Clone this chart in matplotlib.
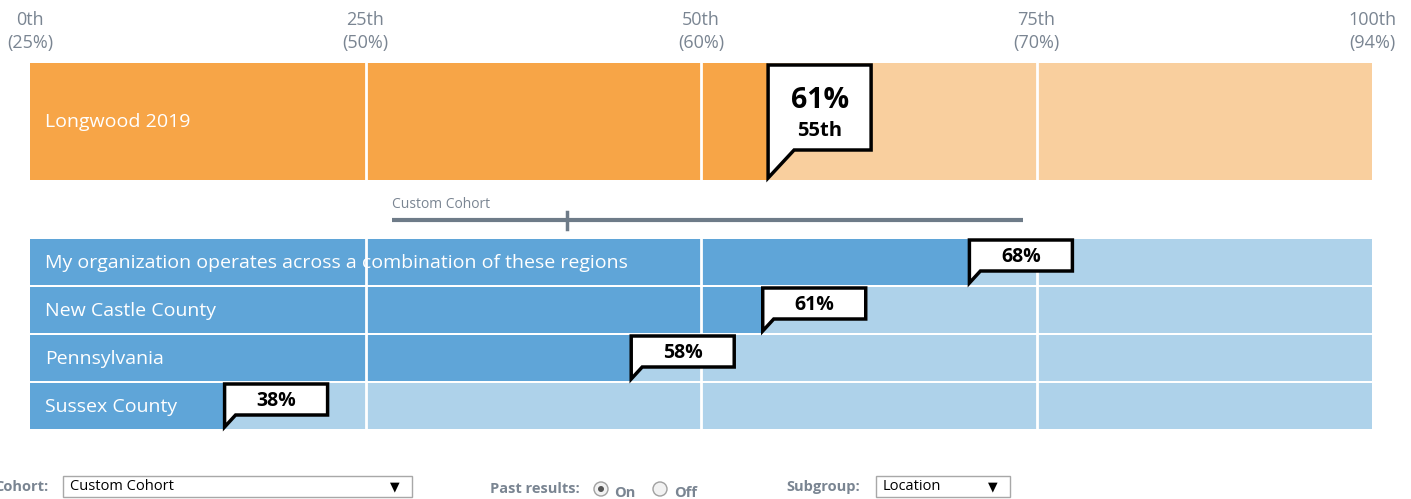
import matplotlib
matplotlib.use('Agg')
import matplotlib.pyplot as plt
from matplotlib.patches import Polygon, Rectangle, Circle

plt.rcParams['font.family'] = ['Open Sans', 'DejaVu Sans']

# percentile scale, with the matching score under each tick
tick_pcts = [0, 25, 50, 75, 100]
tick_scores = ['25%', '50%', '60%', '70%', '94%']

org_name = 'Longwood 2019'
org_score = '61%'
org_pctile = 55

cohort_name = 'Custom Cohort'
cohort_range = [27, 74]
cohort_mid = 40

groups = ['My organization operates across a combination of these regions',
          'New Castle County', 'Pennsylvania', 'Sussex County']
group_pctiles = [70, 54.6, 44.8, 14.5]
group_scores = ['68%', '61%', '58%', '38%']

ORANGE, ORANGE_LT = '#f7a547', '#f9cf9e'
BLUE, BLUE_LT = '#5fa5d8', '#aed2ea'
GREY = '#7a8592'

W, H = 1411, 499
fig = plt.figure(figsize=(W / 100, H / 100), dpi=100)

# chart axes: x in percentiles, y in pixel rows
X0, SPAN = 30, 1342
ax = fig.add_axes([0, 0, 1, 1])
ax.set_xlim(-X0 / SPAN * 100, (W - X0) / SPAN * 100)
ax.set_ylim(H, 0)
ax.axis('off')
px = 100 / SPAN  # one pixel in percentile units

# scale labels
for p, s in zip(tick_pcts, tick_scores):
    ax.text(p, 20, f'{p}th', ha='center', va='center', fontsize=13, color=GREY)
    ax.text(p, 43, f'({s})', ha='center', va='center', fontsize=13, color=GREY)


def callout(x, top, bottom, tip, lines, sizes, box_w=103, tail_w=26):
    pts = [(x, top), (x + box_w * px, top), (x + box_w * px, bottom),
           (x + tail_w * px, bottom), (x, tip)]
    ax.add_patch(Polygon(pts, closed=True, facecolor='white', edgecolor='black',
                         linewidth=2.5, joinstyle='miter', zorder=5))
    cx = x + box_w / 2 * px
    for (ty, txt), fs in zip(lines, sizes):
        ax.text(cx, ty, txt, ha='center', va='center', fontsize=fs,
                fontweight='bold', color='black', zorder=6)


# organisation bar
ax.barh(121.5, 100, height=117, left=0, color=ORANGE_LT, zorder=1)
ax.barh(121.5, org_pctile, height=117, left=0, color=ORANGE, zorder=2)
ax.text(15 * px, 122, org_name, ha='left', va='center', fontsize=14,
        color='white', zorder=4)
callout(org_pctile, 65, 150, 178, [(100, org_score), (131, f'{org_pctile}th')],
        [20.5, 14.5], tail_w=26)

# cohort range marker
ax.text(cohort_range[0], 204, cohort_name, ha='left', va='center', fontsize=10,
        color=GREY)
ax.plot(cohort_range, [220, 220], color='#6e7b88', linewidth=3,
        solid_capstyle='butt')
ax.plot([cohort_mid, cohort_mid], [212, 229], color='#6e7b88', linewidth=2.5)

# subgroup bars
row_top, row_h = 238, 48
for i, (name, p, s) in enumerate(zip(groups, group_pctiles, group_scores)):
    top = row_top + i * row_h
    yc = top + row_h / 2
    ax.barh(yc, 100, height=row_h - 2, left=0, color=BLUE_LT, zorder=1)
    ax.barh(yc, p, height=row_h - 2, left=0, color=BLUE, zorder=2)
    ax.text(15 * px, yc + 1, name, ha='left', va='center', fontsize=14,
            color='white', zorder=4)
    callout(p, top + 2, top + 33, top + 45, [(top + 19, s)], [14], tail_w=11)

# white gridlines through the bars
for p in tick_pcts[1:-1]:
    ax.plot([p, p], [63, 180], color='white', linewidth=2, zorder=3)
    ax.plot([p, p], [238, 430], color='white', linewidth=2, zorder=3)

# controls along the bottom, in pixel coordinates
ui = fig.add_axes([0, 0, 1, 1])
ui.set_xlim(0, W)
ui.set_ylim(H, 0)
ui.axis('off')

ui.text(48, 487, 'Cohort:', ha='right', va='center', fontsize=10.5,
        fontweight='bold', color=GREY)
ui.add_patch(Rectangle((63, 476), 349, 21, facecolor='white',
                       edgecolor='#a8a8a8', linewidth=1))
ui.text(70, 487, 'Custom Cohort', ha='left', va='center', fontsize=10.5,
        color='black')
ui.text(395, 487, '▼', ha='center', va='center', fontsize=9, color='black',
        family=['DejaVu Sans'])

ui.text(580, 489, 'Past results:', ha='right', va='center', fontsize=10.5,
        fontweight='bold', color=GREY)
ui.add_patch(Circle((601, 489), 7, facecolor='#f2f2f2', edgecolor='#a0a0a0',
                    linewidth=1))
ui.add_patch(Circle((601, 489), 3, facecolor='#555555', edgecolor='none'))
ui.text(614, 493, 'On', ha='left', va='center', fontsize=10.5,
        fontweight='bold', color=GREY)
ui.add_patch(Circle((660, 489), 7, facecolor='#f2f2f2', edgecolor='#a0a0a0',
                    linewidth=1))
ui.text(674, 493, 'Off', ha='left', va='center', fontsize=10.5,
        fontweight='bold', color=GREY)

ui.text(860, 487, 'Subgroup:', ha='right', va='center', fontsize=10.5,
        fontweight='bold', color=GREY)
ui.add_patch(Rectangle((876, 476), 134, 21, facecolor='white',
                       edgecolor='#a8a8a8', linewidth=1))
ui.text(883, 487, 'Location', ha='left', va='center', fontsize=10.5,
        color='black')
ui.text(993, 487, '▼', ha='center', va='center', fontsize=9, color='black',
        family=['DejaVu Sans'])

fig.savefig('out.png', dpi=100)
